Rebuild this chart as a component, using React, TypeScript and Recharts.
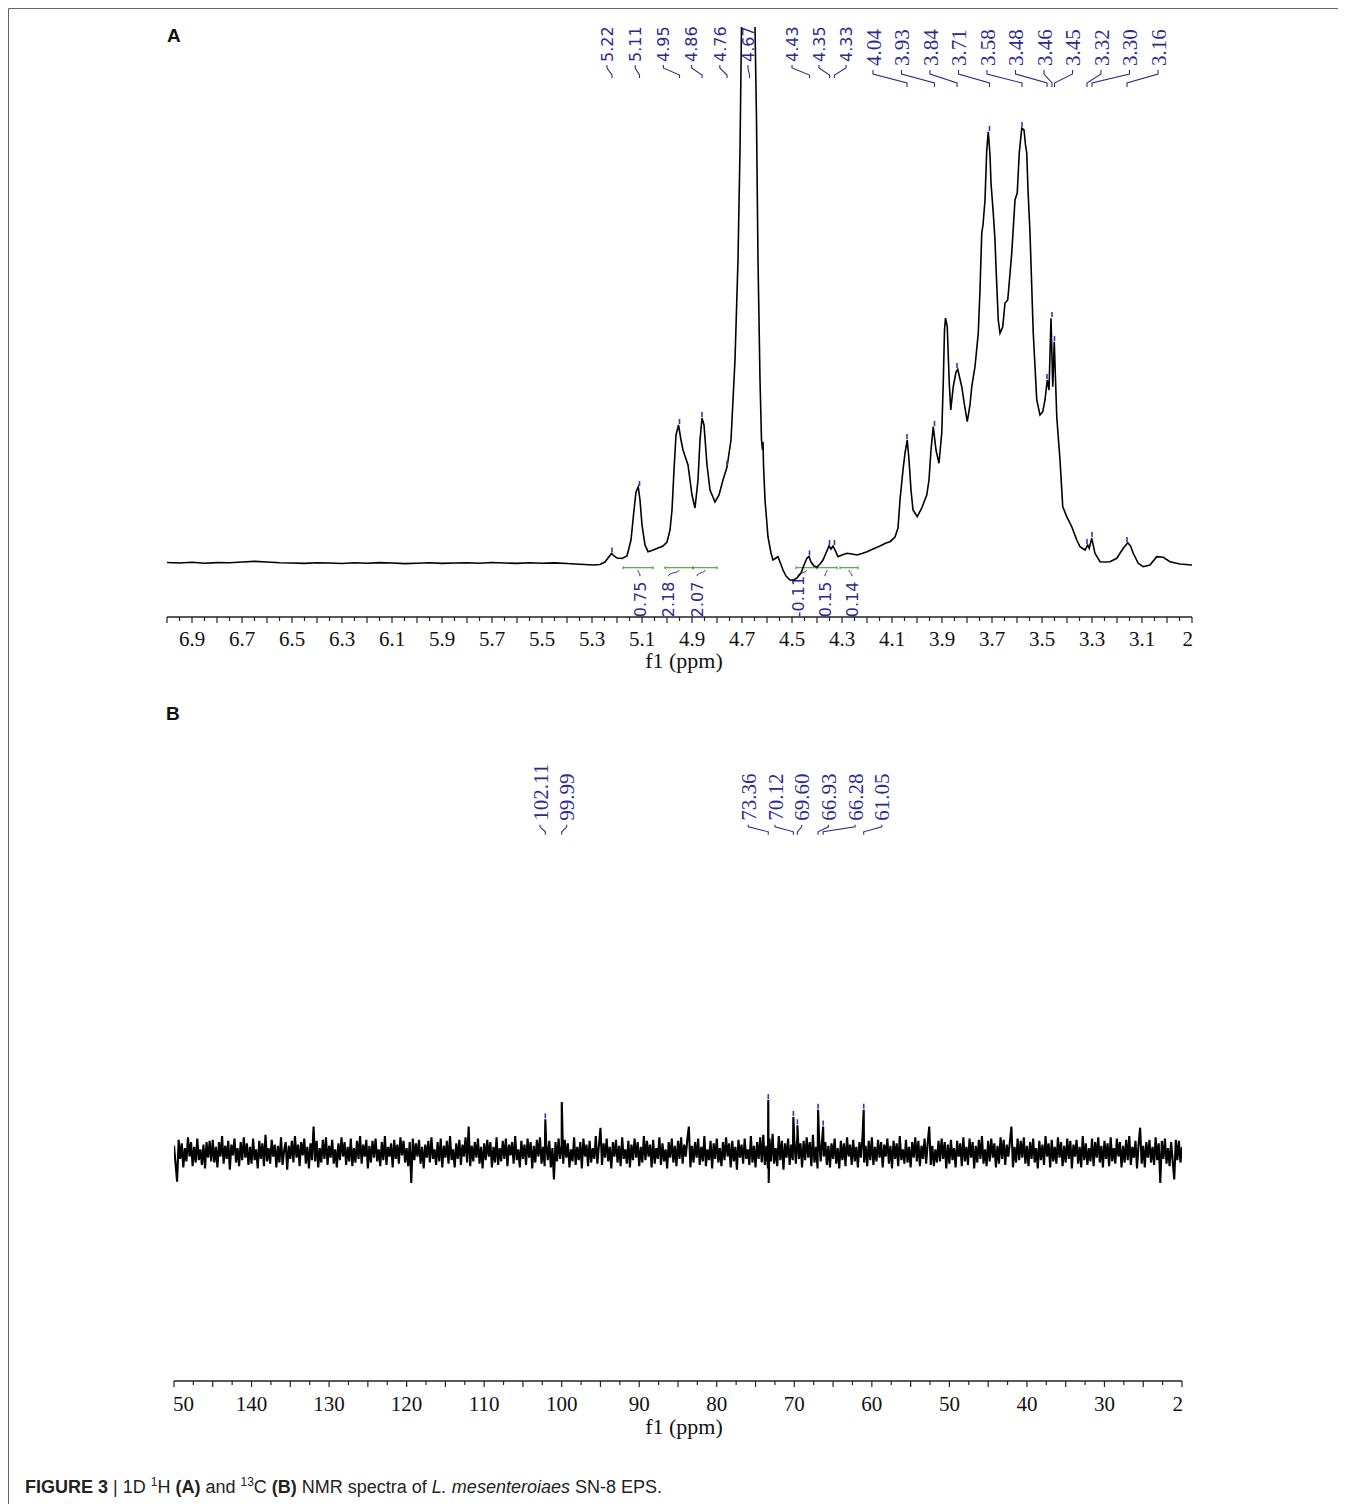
import React from 'react';
import { LineChart, Line, XAxis, YAxis, ReferenceDot, ReferenceArea } from 'recharts';

const SERIF = '"Liberation Serif", "Times New Roman", serif';
const SANS = '"DejaVu Sans", Verdana, sans-serif';
const ARIAL = '"Liberation Sans", Arial, sans-serif';
const BLUE = '#2b2b8f';
const GREEN = '#3f9b3f';

// ---------- (A) 1H spectrum: [ppm, intensity] ----------
const H_SPECTRUM: [number, number][] = [
  [7.0, 0.5], [6.95, 0], [6.9, 0.8], [6.85, -0.3], [6.8, 0.4], [6.75, 0.2], [6.7, 1.0], [6.65, 1.6],
  [6.6, 1.0], [6.55, 0.3], [6.5, 0], [6.45, -0.4], [6.4, 0.3], [6.35, 0], [6.3, -0.5], [6.25, 0.2],
  [6.2, -0.2], [6.15, 0.4], [6.1, 0], [6.05, -0.6], [6.0, -0.3], [5.95, 0.2], [5.9, -0.4], [5.85, 0],
  [5.8, 0.3], [5.75, -0.2], [5.7, 0.5], [5.65, 0], [5.6, -0.4], [5.55, 0.2], [5.5, -0.3], [5.45, 0.1],
  [5.4, -0.5], [5.368, -1], [5.33, -1.5], [5.296, -2], [5.268, -1.5], [5.248, 1], [5.236, 5], [5.222, 9.5],
  [5.212, 7], [5.2, 5], [5.18, 4.5], [5.16, 7], [5.144, 23], [5.132, 53], [5.124, 71], [5.115, 76],
  [5.108, 63], [5.1, 38], [5.088, 18], [5.076, 11.3], [5.06, 12.5], [5.036, 15], [5.016, 17], [5.0, 21],
  [4.988, 33], [4.98, 53], [4.972, 93], [4.964, 128], [4.954, 138], [4.944, 123], [4.936, 113], [4.916, 98],
  [4.9, 68], [4.888, 55], [4.876, 83], [4.868, 123], [4.86, 145], [4.852, 138], [4.84, 98], [4.828, 73],
  [4.808, 61], [4.792, 68], [4.776, 83], [4.76, 96], [4.744, 123], [4.728, 203], [4.716, 303], [4.708, 413],
  [4.702, 536], [4.692, 800], [4.67, 1400], [4.656, 800], [4.648, 536], [4.642, 443], [4.636, 303], [4.628, 183],
  [4.622, 123], [4.618, 113], [4.616, 121], [4.614, 98], [4.608, 63], [4.596, 26], [4.584, 10], [4.576, 3],
  [4.564, 5], [4.556, 6.3], [4.548, 1], [4.536, -7], [4.524, -13], [4.508, -17], [4.492, -17], [4.48, -15],
  [4.464, -10], [4.452, -2], [4.44, 5], [4.432, 6.5], [4.424, 1], [4.412, -3], [4.4, -4], [4.388, -1],
  [4.376, 3], [4.364, 10], [4.352, 17], [4.344, 14], [4.336, 17], [4.328, 13], [4.316, 6.3], [4.3, 8],
  [4.28, 9.7], [4.26, 9], [4.24, 8], [4.22, 9.5], [4.2, 11.3], [4.176, 14], [4.148, 17], [4.124, 20],
  [4.108, 21.3], [4.088, 26], [4.076, 35], [4.068, 63], [4.056, 93], [4.048, 110], [4.039, 123], [4.032, 103],
  [4.024, 73], [4.016, 53], [3.999, 46.3], [3.981, 55], [3.961, 68], [3.952, 83], [3.944, 113], [3.935, 136.3],
  [3.924, 113], [3.912, 99.7], [3.901, 130], [3.895, 180], [3.89, 233], [3.886, 245], [3.879, 236.3], [3.871, 180],
  [3.865, 153], [3.855, 176.3], [3.844, 191], [3.837, 193.7], [3.821, 176.3], [3.81, 158], [3.799, 141.3], [3.788, 158],
  [3.781, 176.3], [3.768, 196.3], [3.755, 229.7], [3.748, 273], [3.741, 330], [3.736, 338], [3.728, 363], [3.721, 413],
  [3.715, 431.3], [3.708, 408], [3.704, 380], [3.695, 350], [3.688, 323], [3.684, 296.3], [3.675, 243], [3.668, 229.7],
  [3.657, 236.3], [3.648, 260], [3.637, 263], [3.621, 310], [3.608, 363], [3.599, 370], [3.591, 410], [3.581, 434.7],
  [3.572, 433], [3.566, 418], [3.561, 410], [3.556, 373], [3.548, 330], [3.535, 230], [3.521, 163], [3.508, 148],
  [3.497, 151.3], [3.488, 163], [3.479, 183], [3.472, 173], [3.464, 244.7], [3.457, 176.3], [3.451, 221.3], [3.441, 146.3],
  [3.428, 103], [3.417, 56.3], [3.401, 46.3], [3.381, 36.3], [3.361, 23], [3.348, 16.3], [3.328, 13], [3.317, 18],
  [3.311, 14.7], [3.301, 24.7], [3.288, 9.7], [3.268, 1.3], [3.248, 1], [3.228, 1.3], [3.201, 4.7], [3.175, 14.7],
  [3.157, 20.3], [3.146, 17], [3.135, 9.7], [3.115, -0.3], [3.095, -3.7], [3.068, -2], [3.041, 6.3], [3.015, 5.7],
  [2.988, 1.3], [2.948, -1], [2.9, -2],
];
const H_PEAKS = [5.22, 5.11, 4.95, 4.86, 4.76, 4.67, 4.43, 4.35, 4.33, 4.04, 3.93, 3.84, 3.71, 3.58, 3.48, 3.46, 3.45, 3.32, 3.3, 3.16];
const H_PEAK_TOPS = [9.5, 76, 138, 145, 96, null, 6.5, 17, 17, 123, 136, 194, 431, 435, 183, 245, 221, 18, 25, 20];
const H_INT_FROM = [5.176, 5.008, 4.896, 4.484, 4.4, 4.308];
const H_INT_TO = [5.056, 4.896, 4.8, 4.4, 4.32, 4.236];
const H_INT_VALUES = ['0.75', '2.18', '2.07', '-0.11', '0.15', '0.14'];
const H_TICK_LABELS = [6.9, 6.7, 6.5, 6.3, 6.1, 5.9, 5.7, 5.5, 5.3, 5.1, 4.9, 4.7, 4.5, 4.3, 4.1, 3.9, 3.7, 3.5, 3.3, 3.1, 2.9];

// ---------- (B) 13C spectrum ----------
// baseline noise, evenly sampled from 150 to 20 ppm
const C_NOISE = [
  6, -9, -24, 11, -5, 8, -12, 4, -7, 13, -3, 9, -11, 5, -8, 12, -6, 3, -10, 7, -13, 9, -4, 10, -7,
  11, -8, 5, -12, 9, -3, 14, -9, 6, -5, 10, -14, 7, -2, 12, -8, 4, -11, 9, -6, 13, -4, 8, -10, 5,
  -9, 12, -6, 3, -13, 10, -5, 8, -11, 15, -7, 4, -9, 11, -3, 7, -12, 6, -8, 13, -10, 2, 9, -14, 6,
  -5, 10, -8, 14, -4, 7, -11, 9, -2, 12, -9, 5, -13, 8, -6, 22, -7, 10, -12, 4, -8, 11, -5, 13, -10,
  6, -4, 11, -9, 3, -12, 8, -6, 13, -3, 9, -10, 5, -7, 12, -11, 4, -8, 10, -5, 14, -9, 7, -3, 11,
  -13, 6, -8, 10, -4, 12, -7, 3, -11, 9, -6, 14, -10, 5, -3, 8, -12, 11, -5, 7, -9, 13, -2, 10, -8,
  4, -11, 9, -25, 12, -6, 8, -3, 11, -9, 5, -13, 7, -4, 10, -8, 13, -5, 3, -10, 9, -7, 12, -12, 6,
  -4, 10, -9, 14, -6, 3, -12, 8, -5, 11, -10, 7, -3, 13, -8, 22, -11, 6, -7, 9, -4, 12, -9, 5, -13,
  8, -6, 11, -3, 9, -12, 5, -8, 13, -10, 4, -7, 10, -5, 12, -11, 7, -2, 9, -9, 14, -6, 3, -12, 10,
  -5, 7, -10, 12, -4, 9, -13, 6, -8, 11, -3, 13, -9, 5, -11, 8, -6, 10, -12, 4, -22, 9, -7, 12, -5,
  6, -9, 11, -4, 8, -12, 3, -7, 13, -10, 5, -6, 9, -13, 12, -3, 7, -11, 10, -8, 4, -5, 14, -9, 6,
  21, -10, 8, -4, 12, -7, 5, -13, 9, -3, 11, -8, 6, -11, 13, -5, 3, -9, 10, -12, 7, -6, 12, -4, 9,
  -11, 5, -8, 14, -6, 10, -3, 7, -12, 11, -9, 4, -5, 13, -10, 8, -7, 3, -13, 9, -4, 12, -8, 6, -11,
  10, -5, 13, -9, 7, -3, 11, 22, -12, 6, -8, 9, -4, 12, -10, 5, -7, 14, -11, 3, -6, 10, -13, 8, -5,
  12, -8, 4, -11, 9, -6, 13, -3, 8, -12, 10, -7, 5, -14, 11, -4, 7, -9, 12, -5, 3, -10, 14, -8, 6,
  -12, 9, -5, 13, -8, 15, -10, 6, -13, 12, -7, 16, -9, 4, -11, 14, -6, 10, -14, 8, -4, 12, -10, 7, -6,
  11, -9, 14, -5, 8, -12, 10, -6, 13, -4, 9, -11, 15, -8, 5, -13, 11, -7, 12, -3, 9, -10, 6, -12, 8,
  -5, 12, -9, 4, -13, 10, -6, 8, -11, 13, -3, 7, -10, 11, -7, 5, -12, 9, -4, 14, -8, 6, -11, 10, -6,
  13, -10, 5, -7, 11, -4, 9, -12, 7, -3, 12, -9, 6, -13, 10, -5, 8, -11, 14, -6, 3, -9, 11, -8, 5,
  -12, 9, -4, 13, -7, 10, -11, 6, -5, 12, -9, 8, 22, -10, 6, -11, 3, -8, 10, -7, 12, -5, 9, -13, 7,
  -9, 11, -6, 4, -12, 10, -3, 8, -11, 13, -7, 5, -10, 12, -4, 9, -13, 6, -8, 11, -5, 14, -9, 3, -11,
  10, -7, 12, -4, 8, -12, 6, -9, 13, -5, 11, -10, 7, -3, 9, 22, -12, 5, -8, 12, -6, 10, -4, 13, -9,
  6, -11, 9, -5, 12, -8, 4, -13, 10, -6, 7, -10, 14, -3, 8, -12, 11, -7, 5, -9, 13, -4, 9, -11, 6,
  -8, 12, -5, 10, -13, 7, -3, 11, -9, 5, -12, 14, -6, 8, -10, 4, -7, 12, -11, 9, -4, 13, -8, 6, -12,
  10, -5, 8, -11, 13, -7, 4, -9, 12, -3, 9, -12, 6, -8, 11, -6, 14, -10, 5, -4, 10, -13, 7, 21, -9,
  6, -12, 9, -4, 11, -8, 5, -10, 13, -6, 8, -25, 10, -5, 12, -9, 4, -11, 9, -7, -22, 11, -6, 10, -8,
  5,
];
const C_PEAKS = [102.11, 99.99, 73.36, 70.12, 69.6, 66.93, 66.28, 61.05];
const C_PEAK_HEIGHTS = [28, 42.5, 44, 30, 23, 36, 22, 36];
const C_MARKED = [true, false, true, true, true, true, true, true];
const C_DIP: [number, number] = [73.3, -25];
const C_TICK_LABELS = [150, 140, 130, 120, 110, 100, 90, 80, 70, 60, 50, 40, 30, 20];

// ---------- layout (page pixels, converted to svg by -8) ----------
const spread = (start: number, gap: number, n: number) => Array.from({ length: n }, (_, i) => start + i * gap);
const H_LABEL_X = [...spread(607, 28.2, 6), ...spread(792, 27, 3), ...spread(873, 28.5, 11)].map((v) => v - 8);
const H_INT_LABEL_X = [640, 668.5, 697, 798, 825, 852].map((v) => v - 8);
const C_LABEL_X = [...spread(540, 26.7, 2), ...spread(748.3, 26.7, 6)].map((v) => v - 8);

const H_TICKS = Array.from({ length: 83 }, (_, i) => Math.round((2.9 + i * 0.05) * 100) / 100);
const C_TICKS = Array.from({ length: 53 }, (_, i) => 20 + i * 2.5);

const near = (a: number, b: number) => Math.abs(a - b) < 1e-6;

function HTick(p: any) {
  const v = p.payload.value;
  const major = near(v * 10, Math.round(v * 10));
  const lbl = H_TICK_LABELS.find((l) => near(l, v));
  let text = null;
  if (lbl !== undefined) {
    const edge = near(lbl, 2.9);
    text = (
      <text x={edge ? p.x + 1 : p.x} y={p.y + 29} textAnchor={edge ? 'end' : 'middle'} fontFamily={SERIF} fontSize={21} fill="#111">
        {edge ? '2' : lbl.toFixed(1)}
      </text>
    );
  }
  return (
    <g>
      <line x1={p.x} x2={p.x} y1={p.y} y2={p.y + (major ? 6 : 4)} stroke="#222" strokeWidth={1.2} />
      {text}
    </g>
  );
}

function CTick(p: any) {
  const v = p.payload.value;
  const major = near(v % 5, 0);
  const lbl = C_TICK_LABELS.find((l) => near(l, v));
  let text = null;
  if (lbl !== undefined) {
    let s = String(lbl);
    let anchor = 'middle';
    let x = p.x;
    if (lbl === 150) { s = '50'; anchor = 'start'; x = p.x - 1; }
    if (lbl === 20) { s = '2'; anchor = 'end'; x = p.x + 1; }
    text = (
      <text x={x} y={p.y + 30} textAnchor={anchor} fontFamily={SERIF} fontSize={21} fill="#111">{s}</text>
    );
  }
  return (
    <g>
      <line x1={p.x} x2={p.x} y1={p.y} y2={p.y + (major ? 6 : 4)} stroke="#222" strokeWidth={1.2} />
      {text}
    </g>
  );
}

type Geo = { v1: number; v2: number; v3: number; text: number };

function peakTag(label: string, lx: number, font: string, size: number, g: Geo) {
  return (p: any) => {
    const { cx, cy } = p;
    return (
      <g>
        <path d={`M${cx},${cy}V${cy - g.v1}L${lx},${cy - g.v2}V${cy - g.v3}`} fill="none" stroke={BLUE} strokeWidth={1.1} />
        <text transform={`translate(${lx},${cy - g.text}) rotate(-90)`} dy="0.36em" fontFamily={font} fontSize={size} fill={BLUE}>
          {label}
        </text>
      </g>
    );
  };
}

const marker = (p: any) => (
  <line x1={p.cx} x2={p.cx} y1={p.cy - 1} y2={p.cy - 6} stroke="#3535b5" strokeWidth={1.6} />
);

function integralShape(label: string, lx: number) {
  return (p: any) => {
    const { x, y, width, height } = p;
    const mid = y + height / 2;
    const cx = x + width / 2;
    const yb = y + height;
    return (
      <g>
        <line x1={x} x2={x + width} y1={mid} y2={mid} stroke={GREEN} strokeWidth={1.1} />
        <line x1={x} x2={x} y1={y} y2={yb} stroke={GREEN} strokeWidth={1.1} />
        <line x1={x + width} x2={x + width} y1={y} y2={yb} stroke={GREEN} strokeWidth={1.1} />
        <path d={`M${cx},${yb + 1}C${cx},${yb + 4} ${lx},${yb + 3} ${lx},${yb + 7}`} fill="none" stroke={BLUE} strokeWidth={1} />
        <text transform={`translate(${lx},${yb + 48}) rotate(-90)`} dy="0.36em" fontFamily={SANS} fontSize={16} fill={BLUE}>
          {label}
        </text>
      </g>
    );
  };
}

export default function App() {
  const hData = H_SPECTRUM.map(([ppm, y]) => ({ ppm, y }));
  const cData = C_NOISE.map((v, i) => ({ ppm: 150 - (i * 130) / (C_NOISE.length - 1), y: v }))
    .concat(C_PEAKS.map((p, i) => ({ ppm: p, y: C_PEAK_HEIGHTS[i] })), [{ ppm: C_DIP[0], y: C_DIP[1] }])
    .sort((a, b) => b.ppm - a.ppm);

  const leftGeo: Geo = { v1: 3, v2: 10, v3: 13, text: 16 };
  const rightGeo: Geo = { v1: 4, v2: 13, v3: 17, text: 21 };
  const cGeo: Geo = { v1: 3, v2: 8, v3: 10, text: 14 };

  return (
    <div style={{ position: 'relative', width: 1338, height: 1496, background: '#fff' }}>
      <div style={{ position: 'absolute', left: 0, top: 0 }}>
        <LineChart width={1330} height={680} data={hData} margin={{ top: 19, right: 146, bottom: 11, left: 159 }}>
          <XAxis
            dataKey="ppm"
            type="number"
            domain={[2.9, 7.0]}
            reversed
            allowDataOverflow
            ticks={H_TICKS}
            interval={0}
            tickSize={0}
            tickMargin={0}
            tickLine={false}
            height={60}
            axisLine={{ stroke: '#222', strokeWidth: 1.3 }}
            tick={(p: any) => <HTick {...p} />}
          />
          <YAxis type="number" domain={[-54, 536]} allowDataOverflow hide />
          {H_INT_VALUES.map((v, i) => (
            <ReferenceArea
              key={`int${i}`}
              x1={H_INT_FROM[i]}
              x2={H_INT_TO[i]}
              y1={-3.2}
              y2={-6.2}
              shape={integralShape(v, H_INT_LABEL_X[i])}
            />
          ))}
          {H_PEAKS.map((pk, i) => (
            <ReferenceDot
              key={`lab${i}`}
              x={pk}
              y={i < 9 ? 485 : 476}
              r={0}
              ifOverflow="visible"
              shape={peakTag(pk.toFixed(2), H_LABEL_X[i], i < 9 ? SANS : SERIF, i < 9 ? 16 : 21, i < 9 ? leftGeo : rightGeo)}
            />
          ))}
          {H_PEAKS.map((pk, i) =>
            H_PEAK_TOPS[i] === null ? null : (
              <ReferenceDot key={`mk${i}`} x={pk} y={H_PEAK_TOPS[i] as number} r={0} ifOverflow="visible" shape={marker} />
            )
          )}
          <Line dataKey="y" type="linear" stroke="#000" strokeWidth={1.6} dot={false} isAnimationActive={false} />
        </LineChart>
      </div>

      <div style={{ position: 'absolute', left: 0, top: 690 }}>
        <LineChart width={1330} height={760} data={cData} margin={{ top: 42, right: 156, bottom: 11, left: 166 }}>
          <XAxis
            dataKey="ppm"
            type="number"
            domain={[20, 150]}
            reversed
            allowDataOverflow
            ticks={C_TICKS}
            interval={0}
            tickSize={0}
            tickMargin={0}
            tickLine={false}
            height={66}
            axisLine={{ stroke: '#222', strokeWidth: 1.3 }}
            tick={(p: any) => <CTick {...p} />}
          />
          <YAxis type="number" domain={[-190, 344]} allowDataOverflow hide />
          {C_PEAKS.map((pk, i) => (
            <ReferenceDot
              key={`clab${i}`}
              x={pk}
              y={265}
              r={0}
              ifOverflow="visible"
              shape={peakTag(pk.toFixed(2), C_LABEL_X[i], SERIF, 21, cGeo)}
            />
          ))}
          {C_PEAKS.map((pk, i) =>
            C_MARKED[i] ? (
              <ReferenceDot key={`cmk${i}`} x={pk} y={C_PEAK_HEIGHTS[i]} r={0} ifOverflow="visible" shape={marker} />
            ) : null
          )}
          <Line dataKey="y" type="linear" stroke="#000" strokeWidth={2.1} dot={false} isAnimationActive={false} />
        </LineChart>
      </div>

      <svg width={1338} height={1496} style={{ position: 'absolute', left: 0, top: 0, pointerEvents: 'none' }}>
        <line x1={0.5} y1={0.5} x2={1338} y2={0.5} stroke="#666" />
        <line x1={0.5} y1={0.5} x2={0.5} y2={1496} stroke="#666" />
        <text x={159} y={34} fontFamily={ARIAL} fontWeight="bold" fontSize={19} fill="#111">A</text>
        <text x={158} y={712} fontFamily={ARIAL} fontWeight="bold" fontSize={19} fill="#111">B</text>
        <text x={676} y={660} textAnchor="middle" fontFamily={SERIF} fontSize={22} fill="#111">f1 (ppm)</text>
        <text x={676} y={1426} textAnchor="middle" fontFamily={SERIF} fontSize={22} fill="#111">f1 (ppm)</text>
        <text x={17} y={1485} fontFamily={ARIAL} fontSize={18} fill="#222">
          <tspan fontWeight="bold">FIGURE 3</tspan>
          <tspan> | 1D </tspan>
          <tspan dy={-7} fontSize={12}>1</tspan>
          <tspan dy={7}>H </tspan>
          <tspan fontWeight="bold">(A)</tspan>
          <tspan> and </tspan>
          <tspan dy={-7} fontSize={12}>13</tspan>
          <tspan dy={7}>C </tspan>
          <tspan fontWeight="bold">(B)</tspan>
          <tspan> NMR spectra of </tspan>
          <tspan fontStyle="italic">L. mesenteroiaes</tspan>
          <tspan> SN-8 EPS.</tspan>
        </text>
      </svg>
    </div>
  );
}
